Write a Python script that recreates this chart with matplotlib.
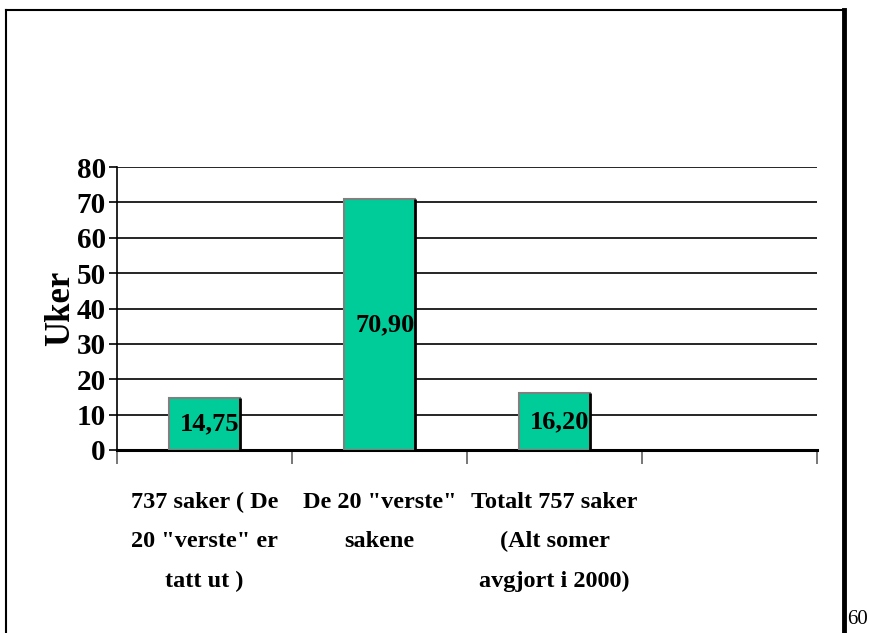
import matplotlib
matplotlib.use("Agg")
import matplotlib.pyplot as plt
from matplotlib.lines import Line2D

categories = ['737 saker ( De\n20 "verste" er\ntatt ut )',
              'De 20 "verste"\nsakene',
              'Totalt 757 saker\n(Alt somer\navgjort i 2000)',
              '']
values = [14.75, 70.90, 16.20]
value_labels = ['14,75', '70,90', '16,20']
y_ticks = [0, 10, 20, 30, 40, 50, 60, 70, 80]
y_label = 'Uker'
page_number = '60'

plt.rcParams['font.family'] = ['Liberation Serif', 'DejaVu Serif']

fig = plt.figure(figsize=(8.7, 6.33), dpi=100)
ax = fig.add_axes([117/870, 183/633, 700/870, 283/633])

n = len(categories)
xs = list(range(len(values)))
w = 0.41
bars = ax.bar(xs, values, width=w, color='#00CC99', edgecolor='#808080',
              linewidth=1.5, zorder=3)
# dark shadow on the right side of each bar
for x, v in zip(xs, values):
    ax.plot([x + w/2, x + w/2], [0, v], color='black', lw=2, zorder=4,
            solid_capstyle='butt')
for x, v, lab in zip(xs, values, value_labels):
    ax.text(x + 0.03, v/2, lab, ha='center', va='center', fontsize=19,
            fontweight='bold', zorder=5)

ax.set_xlim(-0.5, n - 0.5)
ax.set_ylim(0, 80)
ax.set_yticks(y_ticks)
ax.set_yticklabels([str(t) for t in y_ticks], fontsize=21, fontweight='bold')
ax.yaxis.grid(True, color='black', lw=1.2, zorder=1)
ax.set_axisbelow(True)

ax.set_xticks(range(n))
ax.set_xticklabels(categories, fontsize=17.5, fontweight='bold', linespacing=2.15,
                   va='top')
ax.tick_params(axis='x', which='major', length=0, pad=30)
ax.set_xticks([i + 0.5 for i in range(-1, n)], minor=True)
ax.tick_params(axis='x', which='minor', length=10, color='#606060', width=1.2)
ax.tick_params(axis='y', which='major', length=6, width=1.2, pad=2)

for s in ['top', 'right']:
    ax.spines[s].set_visible(False)
ax.spines['left'].set_linewidth(1.2)
ax.spines['bottom'].set_linewidth(2.2)

ax.set_ylabel(y_label, fontsize=25, fontweight='bold', labelpad=0)

# page frame
fig.add_artist(Line2D([6/870, 6/870], [0, 1 - 10/633], color='black', lw=1.5,
                      transform=fig.transFigure))
fig.add_artist(Line2D([6/870, 845/870], [1 - 10/633, 1 - 10/633], color='black',
                      lw=1.5, transform=fig.transFigure))
fig.add_artist(Line2D([844/870, 844/870], [0, 1 - 10/633], color='black', lw=3.5,
                      transform=fig.transFigure))
fig.text(847/870, 1 - 620/633, page_number, fontsize=15, ha='left', va='center')

fig.savefig('out.png', dpi=100)
